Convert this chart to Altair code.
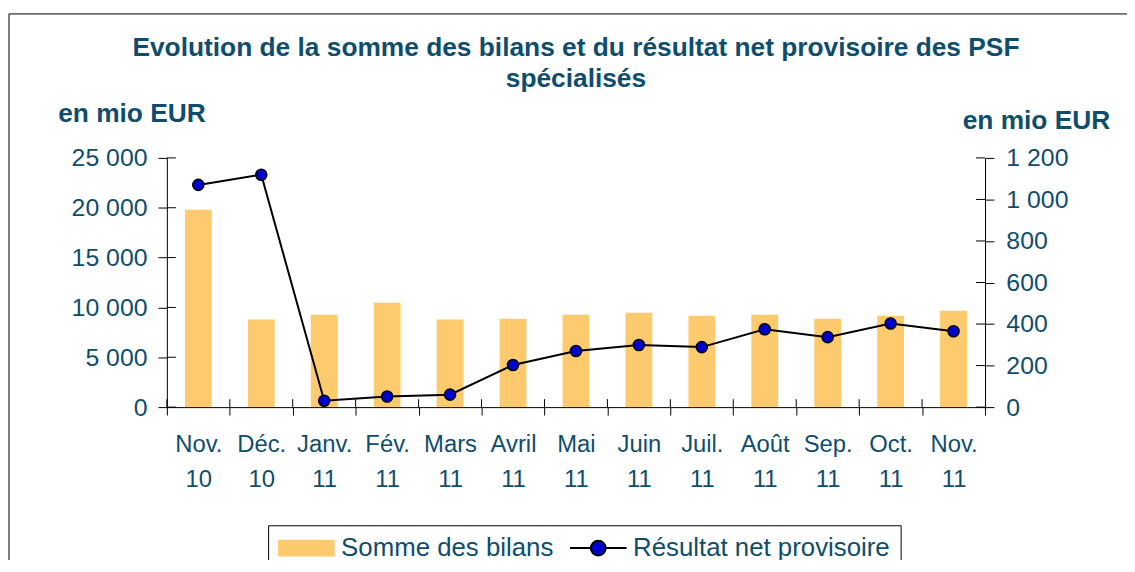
import altair as alt
import pandas as pd

# ---- data ----
months = ["Nov.|10", "Déc.|10", "Janv.|11", "Fév.|11", "Mars|11", "Avril|11", "Mai|11",
          "Juin|11", "Juil.|11", "Août|11", "Sep.|11", "Oct.|11", "Nov.|11"]
somme_bilans = [19800, 8780, 9270, 10460, 8780, 8870, 9270, 9470, 9170, 9270, 8870, 9170, 9670]
resultat_net = [1070, 1119, 31, 51, 60, 203, 270, 299, 289, 375, 337, 403, 365]
left_ticks = [0, 5000, 10000, 15000, 20000, 25000]
right_ticks = [0, 200, 400, 600, 800, 1000, 1200]
series = ["Somme des bilans", "Résultat net provisoire"]

# ---- style ----
W, H = 824, 251
FONT = "Liberation Sans"
TEAL = "#0F4D6D"
ORANGE = "#FDCB6E"
BLUE = "#0000CC"

df = pd.DataFrame({"mois": months, "bilans": somme_bilans, "resultat": resultat_net})

x_scale = alt.Scale(type="band", paddingInner=0, paddingOuter=0)
x_axis = alt.Axis(title=None,
                  labelExpr="isString(datum.value) ? split(datum.value, '|') : ''",
                  labelAngle=0, labelFontSize=24, labelFont=FONT, labelColor=TEAL,
                  labelLineHeight=35, labelPadding=18, tickBand="extent",
                  tickSize=8, tickColor="black", domainColor="black")


def xe(**kw):
    return alt.X("mois:N", sort=months, scale=x_scale, axis=x_axis, **kw)


left_scale = alt.Scale(domain=[0, 25000], nice=False)
right_scale = alt.Scale(domain=[0, 1200], nice=False)

bars = alt.Chart(df).mark_bar(color=ORANGE, width={"band": 0.426}).encode(
    x=xe(),
    y=alt.Y("bilans:Q", scale=left_scale,
            axis=alt.Axis(orient="left", values=left_ticks, grid=False,
                          labelExpr="replace(format(datum.value, ','), ',', ' ')",
                          labelFontSize=25, labelFont=FONT, labelColor=TEAL, labelPadding=11,
                          tickSize=9, tickColor="black", domainColor="black",
                          title="en mio EUR", titleAngle=0, titleAlign="left",
                          titleBaseline="alphabetic", titleX=-110, titleY=-37,
                          titleFontSize=26.5, titleFont=FONT, titleFontWeight="bold",
                          titleColor=TEAL)),
)

left_inner = alt.Chart(pd.DataFrame({"v": left_ticks})).mark_rule(color="black").encode(
    y=alt.Y("v:Q", scale=left_scale, axis=None),
    x=alt.value(0), x2=alt.value(9),
)

x_inner = alt.Chart(pd.DataFrame({"mois": months})).mark_rule(color="black").encode(
    x=xe(bandPosition=0),
    y=alt.value(H - 8), y2=alt.value(H),
)

line = alt.Chart(df).mark_line(color="black", strokeWidth=2).encode(
    x=xe(),
    y=alt.Y("resultat:Q", scale=right_scale,
            axis=alt.Axis(orient="right", values=right_ticks, grid=False,
                          labelExpr="replace(format(datum.value, ','), ',', ' ')",
                          labelFontSize=25, labelFont=FONT, labelColor=TEAL, labelPadding=12,
                          tickSize=9, tickColor="black", domainColor="black",
                          title="en mio EUR", titleAngle=0, titleAlign="left",
                          titleBaseline="alphabetic", titleX=-23, titleY=-30,
                          titleFontSize=26.5, titleFont=FONT, titleFontWeight="bold",
                          titleColor=TEAL)),
)

points = alt.Chart(df).mark_circle(size=125, color=BLUE, stroke="black",
                                   strokeWidth=1.5, opacity=1).encode(
    x=xe(),
    y=alt.Y("resultat:Q", scale=right_scale, axis=None),
)

right_inner = alt.Chart(pd.DataFrame({"v": right_ticks})).mark_rule(color="black").encode(
    y=alt.Y("v:Q", scale=right_scale, axis=None),
    x=alt.value(W - 9), x2=alt.value(W),
)

# legend drawn by Vega-Lite from an explicit domain (no marks of its own)
rect_path = "M-2.85,-0.85H2.85V0.85H-2.85Z"
line_circle_path = ("M-2.85,0H-0.75M0.75,0H2.85"
                    "M-0.75,0A0.75,0.75,0,1,0,0.75,0A0.75,0.75,0,1,0,-0.75,0Z")
leg = alt.Legend(title=None, orient="none", legendX=102, legendY=370,
                 direction="horizontal", symbolSize=400, symbolStrokeWidth=2,
                 symbolOffset=15.5, labelOffset=22, labelFontSize=26, labelFont=FONT,
                 labelColor=TEAL, labelLimit=600, columnPadding=12, padding=10,
                 strokeColor="black", fillColor="white")

legend_layer = alt.Chart(pd.DataFrame({"serie": series})).transform_filter("false").mark_point(
    filled=True, opacity=1, strokeWidth=2).encode(
    fill=alt.Fill("serie:N", scale=alt.Scale(domain=series, range=[ORANGE, BLUE]), legend=leg),
    stroke=alt.Stroke("serie:N", scale=alt.Scale(domain=series, range=["transparent", "black"]),
                      legend=leg),
    shape=alt.Shape("serie:N", scale=alt.Scale(domain=series, range=[rect_path, line_circle_path]),
                    legend=leg),
)

# outer chart frame (top and left edges; the others fall outside the picture)
frame_top = alt.Chart(pd.DataFrame({"f": [0]})).mark_rule(color="black", strokeWidth=1).encode(
    x=alt.value(-159), x2=alt.value(W + 300), y=alt.value(-145),
)
frame_left = alt.Chart(pd.DataFrame({"f": [0]})).mark_rule(color="black", strokeWidth=1).encode(
    x=alt.value(-159), y=alt.value(-145), y2=alt.value(H + 400),
)

chart = alt.layer(
    frame_top, frame_left, bars, left_inner, x_inner, line, points, right_inner, legend_layer
).resolve_scale(
    y="independent"
).properties(
    width=W, height=H,
    autosize="none",
    padding={"left": 160, "top": 149, "right": 143, "bottom": 152},
    title=alt.Title(
        text=["Evolution de la somme des bilans et du résultat net provisoire des PSF",
              "spécialisés"],
        fontSize=26.5, font=FONT, fontWeight="bold", color=TEAL,
        anchor="middle", frame="group", offset=-80, lineHeight=32),
).configure_view(stroke=None)

chart.save("out.html", embed_options={"renderer": "svg", "actions": False})
